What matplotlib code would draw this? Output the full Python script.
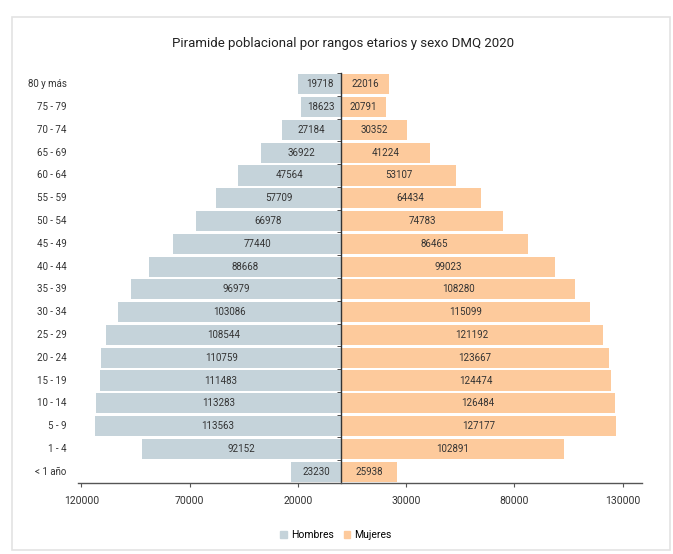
import matplotlib
matplotlib.use("Agg")
import matplotlib.pyplot as plt
from matplotlib.patches import Rectangle, Patch
import matplotlib.transforms as mtransforms
import numpy as np

plt.rcParams['font.family'] = ['Liberation Sans Narrow', 'Roboto', 'DejaVu Sans']

categories = ["< 1 año", "1 - 4", "5 - 9", "10 - 14", "15 - 19", "20 - 24", "25 - 29",
              "30 - 34", "35 - 39", "40 - 44", "45 - 49", "50 - 54", "55 - 59",
              "60 - 64", "65 - 69", "70 - 74", "75 - 79", "80 y más"]
hombres = [23230, 92152, 113563, 113283, 111483, 110759, 108544, 103086, 96979,
           88668, 77440, 66978, 57709, 47564, 36922, 27184, 18623, 19718]
mujeres = [25938, 102891, 127177, 126484, 124474, 123667, 121192, 115099, 108280,
           99023, 86465, 74783, 64434, 53107, 41224, 30352, 20791, 22016]
xtick_values = [-120000, -70000, -20000, 30000, 80000, 130000]
xtick_labels = ["120000", "70000", "20000", "30000", "80000", "130000"]
title = "Piramide poblacional por rangos etarios y sexo DMQ 2020"

c_h = "#c5d3da"
c_m = "#fdca9c"
txt = "#333333"

fig = plt.figure(figsize=(6.73, 5.54), dpi=100)
W, H = 673, 554
# outer frame
fig.patches.append(Rectangle((12 / W, 4 / H), 658 / W, 533 / H, transform=fig.transFigure,
                             fill=False, edgecolor="#e3e3e3", linewidth=1.2))

ax = fig.add_axes([78 / W, 1 - 483 / H, 564 / W, 410 / H])
y = np.arange(len(categories))
ax.barh(y, [-v for v in hombres], height=0.88, color=c_h, label="Hombres")
ax.barh(y, mujeres, height=0.88, color=c_m, label="Mujeres")

for yi, v in zip(y, hombres):
    ax.text(-v / 2, yi, str(v), ha="center", va="center", fontsize=7, color=txt)
for yi, v in zip(y, mujeres):
    ax.text(v / 2, yi, str(v), ha="center", va="center", fontsize=7, color=txt)

ax.set_xlim(-121500, 139000)
ax.set_ylim(-0.5, len(categories) - 0.5)

for s in ["top", "right"]:
    ax.spines[s].set_visible(False)
ax.spines["left"].set_position(("data", 0))
ax.spines["left"].set_color("#333333")
ax.spines["left"].set_linewidth(1.0)
ax.spines["bottom"].set_color("#555555")
ax.spines["bottom"].set_linewidth(1.0)

ax.set_yticks(y)
ax.set_yticklabels([])
ax.tick_params(axis="y", which="major", length=0)
ax.set_yticks(np.arange(-0.5, len(categories)), minor=True)
ax.tick_params(axis="y", which="minor", length=3, color="#333333", direction="out")

trans = mtransforms.blended_transform_factory(ax.transAxes, ax.transData)
for yi, c in zip(y, categories):
    ax.text(-0.02, yi, c, transform=trans, ha="right", va="center", fontsize=7, color=txt)

ax.set_xticks(xtick_values)
ax.set_xticklabels(xtick_labels, fontsize=7.5, color=txt)
ax.tick_params(axis="x", length=3, color="#555555", pad=6)

fig.text(343 / W, 1 - 43 / H, title, ha="center", va="center", fontsize=9.5, color="#222222")

handles = [Patch(color=c_h, label="Hombres"), Patch(color=c_m, label="Mujeres")]
fig.legend(handles=handles, loc="center", bbox_to_anchor=(336 / W, 1 - 535 / H), ncol=2,
           frameon=False, fontsize=7.5, handlelength=0.6, handleheight=0.6,
           handletextpad=0.4, columnspacing=1.0)

fig.savefig("out.png", dpi=100, facecolor="white")
